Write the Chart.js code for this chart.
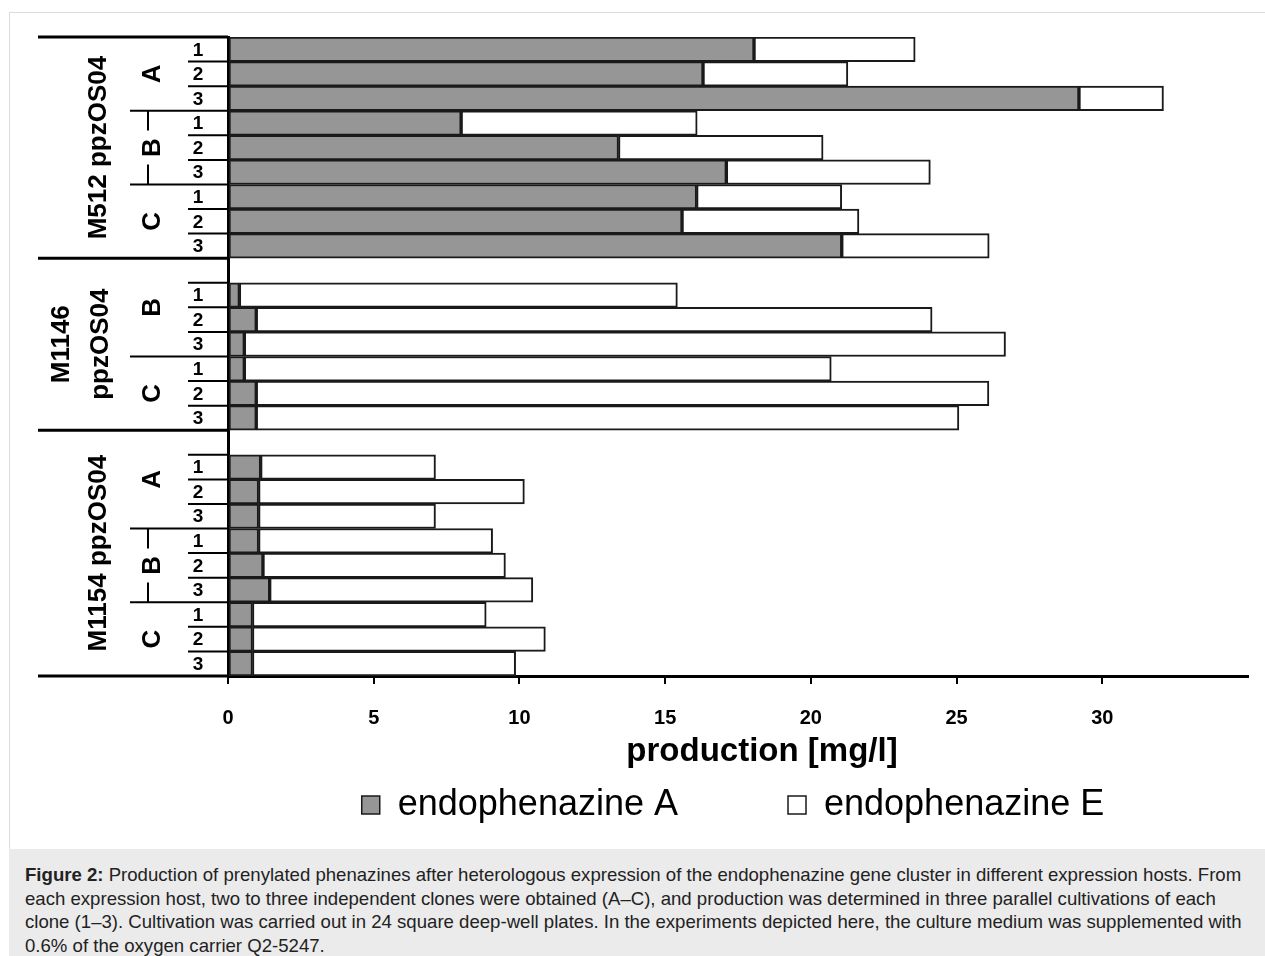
<!DOCTYPE html>
<html>
<head>
<meta charset="utf-8">
<script src="https://cdn.jsdelivr.net/npm/chart.js@4.4.1/dist/chart.umd.min.js"></script>
<style>
html,body{margin:0;padding:0;background:#fff;width:1265px;height:956px;overflow:hidden;font-family:"Liberation Sans",Arial,sans-serif;}
#frame{position:absolute;left:9px;top:12px;width:1270px;height:837px;border-left:1px solid #dcdcdc;border-top:1px solid #dcdcdc;box-sizing:border-box;}
#chart{position:absolute;left:0;top:0;}
#caption{position:absolute;left:9px;top:849px;width:1256px;height:107px;background:#ebebeb;color:#222;font-size:18.6px;line-height:23.7px;padding:14px 0 0 16px;box-sizing:border-box;white-space:nowrap;}
</style>
</head>
<body>
<div id="frame"></div>
<canvas id="chart" width="1265" height="849"></canvas>
<div id="caption"><b>Figure 2:</b> Production of prenylated phenazines after heterologous expression of the endophenazine gene cluster in different expression hosts. From<br>each expression host, two to three independent clones were obtained (A–C), and production was determined in three parallel cultivations of each<br>clone (1–3). Cultivation was carried out in 24 square deep-well plates. In the experiments depicted here, the culture medium was supplemented with<br>0.6% of the oxygen carrier Q2-5247.</div>
<script>
// ---- data ----
const rowLabels = ['1','2','3','1','2','3','1','2','3',
                   '', '1','2','3','1','2','3',
                   '', '1','2','3','1','2','3','1','2','3'];
const endophenazineA = [18.05,16.3,29.2, 8.0,13.4,17.1, 16.08,15.58,21.06,
                        null, 0.39,0.97,0.56, 0.56,0.97,0.97,
                        null, 1.12,1.05,1.05, 1.05,1.2,1.43, 0.84,0.84,0.84];
const endophenazineE = [5.53,4.97,2.9, 8.1,7.02,7.0, 4.98,6.07,5.06,
                        null, 15.03,23.19,26.12, 20.14,25.14,24.11,
                        null, 6.0,9.12,6.07, 8.03,8.32,9.03, 8.02,10.05,9.03];
const xTicks = [0,5,10,15,20,25,30];
const hostGroups = [
  {lines:['M512 ppzOS04'], from:0, to:8},
  {lines:['M1146','ppzOS04'], from:9, to:15},
  {lines:['M1154 ppzOS04'], from:16, to:25}
];
const cloneGroups = [
  {name:'A', from:0, to:2}, {name:'B', from:3, to:5, bar:true}, {name:'C', from:6, to:8},
  {name:'B', from:9, to:12}, {name:'C', from:13, to:15},
  {name:'A', from:16, to:19}, {name:'B', from:20, to:22, bar:true}, {name:'C', from:23, to:25}
];
const xTitle = 'production [mg/l]';
const seriesNames = ['endophenazine A','endophenazine E'];

const FONT = '"Liberation Sans", Arial, sans-serif';
Chart.defaults.font.family = FONT;
Chart.defaults.color = '#000';

const leftLabels = {
  id: 'leftLabels',
  afterDraw(chart) {
    const {ctx, chartArea: ca} = chart;
    const y = chart.scales.y;
    const x0 = ca.left;
    const step = y.getPixelForValue(1) - y.getPixelForValue(0);
    const top = i => y.getPixelForValue(i) - step / 2;
    const bot = i => y.getPixelForValue(i) + step / 2;
    ctx.save();
    ctx.strokeStyle = '#000';
    ctx.fillStyle = '#000';
    const hline = (yy, xa, xb, w) => { ctx.lineWidth = w; ctx.beginPath(); ctx.moveTo(xa, yy); ctx.lineTo(xb, yy); ctx.stroke(); };
    const vline = (xx, ya, yb, w) => { ctx.lineWidth = w; ctx.beginPath(); ctx.moveTo(xx, ya); ctx.lineTo(xx, yb); ctx.stroke(); };
    hostGroups.forEach(h => hline(top(h.from), 38, x0, 3));
    hline(bot(rowLabels.length - 1), 38, x0, 3);
    cloneGroups.forEach(c => { if (!hostGroups.some(h => h.from === c.from)) hline(top(c.from), 130, x0, 2); });
    rowLabels.forEach((l, i) => { if (l && !cloneGroups.some(c => c.from === i)) hline(top(i), 188, x0, 2); });
    // row numbers
    ctx.font = 'bold 19px ' + FONT;
    ctx.textAlign = 'center';
    ctx.textBaseline = 'middle';
    rowLabels.forEach((l, i) => { if (l) ctx.fillText(l, 198, y.getPixelForValue(i) + 1); });
    // clone letters (rotated)
    ctx.font = 'bold 26px ' + FONT;
    cloneGroups.forEach(c => {
      const cy = (top(c.from) + bot(c.to)) / 2;
      if (c.bar) { vline(148, top(c.from), cy - 17, 2); vline(148, cy + 17, bot(c.to), 2); }
      ctx.save(); ctx.translate(153, cy); ctx.rotate(-Math.PI / 2);
      ctx.fillText(c.name, 0, 0); ctx.restore();
    });
    // host labels (rotated)
    hostGroups.forEach(h => {
      const cy = (top(h.from) + bot(h.to)) / 2;
      const n = h.lines.length;
      const cx = n === 1 ? 99 : 81.5;
      ctx.save(); ctx.translate(cx, cy); ctx.rotate(-Math.PI / 2);
      h.lines.forEach((t, k) => ctx.fillText(t, 0, (k - (n - 1) / 2) * 39));
      ctx.restore();
    });
    // x axis title
    ctx.font = 'bold 33px ' + FONT;
    ctx.fillText(xTitle, 762, 752);
    ctx.restore();
  }
};

new Chart(document.getElementById('chart'), {
  type: 'bar',
  data: {
    labels: rowLabels,
    datasets: [
      {label: seriesNames[0], data: endophenazineA, backgroundColor: '#969696', borderColor: '#1a1a1a', borderWidth: 2, borderSkipped: false, barPercentage: 1, categoryPercentage: 1},
      {label: seriesNames[1], data: endophenazineE, backgroundColor: '#ffffff', borderColor: '#1a1a1a', borderWidth: 2, borderSkipped: false, barPercentage: 1, categoryPercentage: 1}
    ]
  },
  options: {
    responsive: false,
    animation: false,
    devicePixelRatio: 1,
    indexAxis: 'y',
    layout: {padding: {left: 228, right: 17, top: 37, bottom: 16}},
    plugins: {
      tooltip: {enabled: false},
      legend: {
        position: 'bottom',
        labels: {
          color: '#000',
          font: {size: 36, family: FONT},
          boxWidth: 18, boxHeight: 18, padding: 10,
          generateLabels(chart) {
            const items = Chart.defaults.plugins.legend.labels.generateLabels(chart);
            items[0].text += '          ';
            items[1].text += ' ';
            items.forEach(it => it.lineWidth = 1.5);
            return items;
          }
        }
      }
    },
    scales: {
      x: {
        type: 'linear', min: 0, max: 35, stacked: true,
        afterFit(s) { s.height = 101; },
        afterBuildTicks(s) { s.ticks = xTicks.map(v => ({value: v})); },
        grid: {drawOnChartArea: false, drawTicks: true, tickLength: 8, lineWidth: 2, color: '#000'},
        border: {color: '#000', width: 3},
        ticks: {padding: 22, color: '#000', font: {size: 20, weight: 'bold'}}
      },
      y: {
        stacked: true,
        afterFit(s) { s.width = 0; },
        grid: {display: false},
        border: {color: '#000', width: 3},
        ticks: {display: false}
      }
    }
  },
  plugins: [leftLabels]
});
</script>
</body>
</html>
